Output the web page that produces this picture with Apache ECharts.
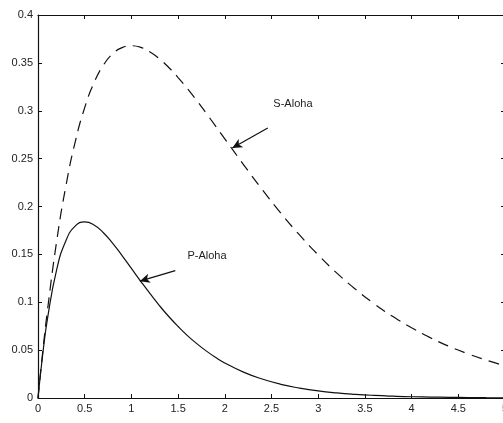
<!DOCTYPE html>
<html>
<head>
<meta charset="utf-8">
<script src="https://cdn.jsdelivr.net/npm/echarts@6/dist/echarts.min.js"></script>
<style>
  html, body { margin: 0; padding: 0; background: #fff; }
  #chart { width: 503px; height: 423px; }
</style>
</head>
<body>
<div id="chart"></div>
<script>
// offered load G
const gValues = [0, 0.05, 0.1, 0.2, 0.3, 0.4, 0.5, 0.6, 0.7, 0.8, 0.9, 1.0,
  1.1, 1.2, 1.3, 1.4, 1.5, 1.6, 1.7, 1.8, 1.9, 2.0, 2.2, 2.4, 2.6, 2.8,
  3.0, 3.2, 3.4, 3.6, 3.8, 4.0, 4.2, 4.4, 4.6, 4.8, 5.0];
// throughput, slotted aloha (dashed)
const sAloha = [0, 0.0476, 0.0905, 0.1637, 0.2222, 0.2681, 0.3033, 0.3293, 0.3476,
  0.3595, 0.3659, 0.3679, 0.3662, 0.3614, 0.3543, 0.3452, 0.3347, 0.3230, 0.3106,
  0.2975, 0.2842, 0.2707, 0.2438, 0.2177, 0.1931, 0.1703, 0.1494, 0.1304, 0.1135,
  0.0984, 0.0850, 0.0733, 0.0630, 0.0540, 0.0463, 0.0395, 0.0337];
// throughput, pure aloha (solid)
const pAloha = [0, 0.0452, 0.0819, 0.1341, 0.1646, 0.1797, 0.1839, 0.1807, 0.1726,
  0.1615, 0.1488, 0.1353, 0.1219, 0.1089, 0.0965, 0.0851, 0.0747, 0.0652, 0.0568,
  0.0492, 0.0425, 0.0366, 0.0270, 0.0198, 0.0143, 0.0104, 0.0074, 0.0053, 0.0038,
  0.0027, 0.0019, 0.0013, 0.0010, 0.0007, 0.0005, 0.0003, 0.0002];

const ink = '#111';
const labelFont = { color: '#222', fontSize: 11, fontFamily: 'Liberation Sans, Arial, sans-serif' };

function frameAxis(pos, extra) {
  return Object.assign({
    type: 'value',
    position: pos,
    axisLine: { show: true, onZero: false, lineStyle: { color: ink, width: 1.2 } },
    axisTick: { show: true, inside: true, length: 4, lineStyle: { color: ink } },
    axisLabel: { show: false },
    splitLine: { show: false }
  }, extra);
}

const xMain = frameAxis('bottom', { min: 0, max: 5, interval: 0.5,
  axisLabel: Object.assign({ show: true, margin: 5, hideOverlap: false }, labelFont) });
const xTop = frameAxis('top', { min: 0, max: 5, interval: 0.5 });
const yMain = frameAxis('left', { min: 0, max: 0.4, interval: 0.05,
  axisLabel: Object.assign({ show: true, margin: 5 }, labelFont) });
const yRight = frameAxis('right', { min: 0, max: 0.4, interval: 0.05 });

function arrow(from, to) {
  return [
    { coord: from, symbol: 'none' },
    { coord: to, symbol: 'arrow', symbolSize: [7, 10] }
  ];
}
function note(text, at) {
  return {
    coord: at, symbol: 'circle', symbolSize: 0,
    label: Object.assign({ show: true, formatter: text, position: 'right', distance: 0 }, labelFont)
  };
}

const option = {
  backgroundColor: '#fff',
  animation: false,
  grid: { left: 38, right: -2, top: 15, bottom: 25, outerBoundsMode: 'none', containLabel: false },
  xAxis: [xMain, xTop],
  yAxis: [yMain, yRight],
  series: [
    {
      name: 'S-Aloha',
      type: 'line',
      smooth: true,
      symbol: 'none',
      data: gValues.map((g, i) => [g, sAloha[i]]),
      lineStyle: { color: ink, width: 1.2, type: [11, 7] },
      markLine: {
        silent: true,
        lineStyle: { color: ink, width: 1.2, type: 'solid' },
        label: { show: false },
        data: [arrow([2.46, 0.282], [2.08, 0.261])]
      },
      markPoint: { silent: true, data: [note('S-Aloha', [2.52, 0.307])] }
    },
    {
      name: 'P-Aloha',
      type: 'line',
      smooth: true,
      symbol: 'none',
      data: gValues.map((g, i) => [g, pAloha[i]]),
      lineStyle: { color: ink, width: 1.2 },
      markLine: {
        silent: true,
        lineStyle: { color: ink, width: 1.2, type: 'solid' },
        label: { show: false },
        data: [arrow([1.47, 0.133], [1.09, 0.122])]
      },
      markPoint: { silent: true, data: [note('P-Aloha', [1.6, 0.148])] }
    }
  ]
};

const chart = echarts.init(document.getElementById('chart'));
chart.setOption(option);
</script>
</body>
</html>
